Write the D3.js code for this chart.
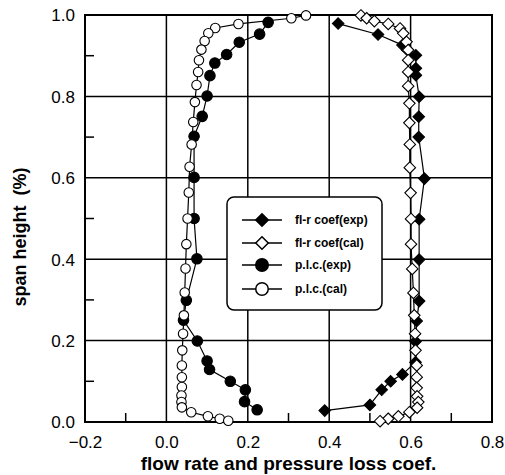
<!DOCTYPE html>
<html><head><meta charset="utf-8">
<script src="https://cdn.jsdelivr.net/npm/d3@7"></script>
<style>body{margin:0;background:#fff}svg{display:block}</style>
</head><body><div id="chart"></div>
<script>
// p.l.c.(cal): span heights and values
const calSpan = [0.999,0.992,0.978,0.968,0.955,0.936,0.915,0.889,0.860,0.828,0.786,0.737,0.682,0.627,0.564,0.500,0.437,0.377,0.318,0.262,0.217,0.176,0.139,0.110,0.086,0.065,0.049,0.036,0.024,0.014,0.008,0.003];
const plcCal  = [0.343,0.307,0.177,0.120,0.103,0.094,0.086,0.080,0.078,0.074,0.070,0.066,0.062,0.057,0.055,0.052,0.049,0.047,0.045,0.043,0.041,0.039,0.038,0.038,0.038,0.037,0.037,0.038,0.061,0.102,0.131,0.152];

const plcExpSpan = [0.982,0.953,0.933,0.903,0.882,0.851,0.801,0.751,0.702,0.601,0.500,0.401,0.299,0.250,0.199,0.150,0.129,0.100,0.079,0.050,0.030];
const plcExp     = [0.250,0.229,0.179,0.148,0.119,0.107,0.100,0.088,0.068,0.068,0.068,0.075,0.049,0.042,0.076,0.100,0.106,0.157,0.194,0.192,0.223];

const flrExpSpan = [0.979,0.952,0.926,0.914,0.901,0.869,0.852,0.799,0.750,0.700,0.598,0.498,0.399,0.297,0.248,0.198,0.147,0.117,0.100,0.079,0.042,0.028];
const flrExp     = [0.422,0.520,0.580,0.592,0.613,0.613,0.613,0.621,0.620,0.620,0.634,0.621,0.621,0.621,0.615,0.612,0.612,0.580,0.551,0.529,0.500,0.389];

const flrCalSpan = [0.999,0.992,0.985,0.978,0.967,0.955,0.934,0.914,0.889,0.860,0.825,0.783,0.735,0.682,0.625,0.563,0.499,0.437,0.376,0.317,0.262,0.217,0.176,0.139,0.110,0.084,0.063,0.049,0.035,0.024,0.014,0.008,0.002];
const flrCal     = [0.478,0.492,0.511,0.545,0.574,0.582,0.590,0.594,0.594,0.594,0.594,0.597,0.597,0.598,0.598,0.600,0.601,0.601,0.604,0.607,0.609,0.611,0.612,0.615,0.615,0.615,0.616,0.619,0.616,0.597,0.570,0.545,0.525];

const xTicks = [-0.2,0.0,0.2,0.4,0.6,0.8];
const yTicks = [0.0,0.2,0.4,0.6,0.8,1.0];
const xMinor = [-0.1,0.1,0.3,0.5,0.7];
const yMinor = [0.1,0.3,0.5,0.7,0.9];
const legendLabels = ["fl-r coef(exp)","fl-r coef(cal)","p.l.c.(exp)","p.l.c.(cal)"];
const xTitle = "flow rate and pressure loss coef.";
const yTitle = "span height  (%)";

const W=505,H=475;
const m={l:85,r:13,t:15,b:53};
const svg=d3.select("#chart").append("svg").attr("width",W).attr("height",H)
  .style("font-family","Arial, 'Liberation Sans', Helvetica, sans-serif");
const x=d3.scaleLinear().domain([-0.2,0.8]).range([m.l,W-m.r]);
const y=d3.scaleLinear().domain([0,1]).range([H-m.b,m.t]);

// grid
const g=svg.append("g");
g.selectAll(".vg").data(xTicks).join("line").attr("x1",d=>x(d)).attr("x2",d=>x(d))
  .attr("y1",y(0)).attr("y2",y(1)).attr("stroke","#000").attr("stroke-width",1.5);
g.selectAll(".hg").data(yTicks).join("line").attr("y1",d=>y(d)).attr("y2",d=>y(d))
  .attr("x1",x(-0.2)).attr("x2",x(0.8)).attr("stroke","#000").attr("stroke-width",1.5);
// minor ticks
g.selectAll(".xm").data(xMinor).join("line").attr("x1",d=>x(d)).attr("x2",d=>x(d))
  .attr("y1",y(0)).attr("y2",y(0)-9).attr("stroke","#000").attr("stroke-width",1.5);
g.selectAll(".ym").data(yMinor).join("line").attr("y1",d=>y(d)).attr("y2",d=>y(d))
  .attr("x1",x(-0.2)).attr("x2",x(-0.2)+9).attr("stroke","#000").attr("stroke-width",1.5);
// frame
svg.append("rect").attr("x",x(-0.2)).attr("y",y(1)).attr("width",x(0.8)-x(-0.2)).attr("height",y(0)-y(1))
  .attr("fill","none").attr("stroke","#000").attr("stroke-width",2);

// axes labels via d3 axes
const xa=svg.append("g").attr("transform",`translate(0,${y(0)})`)
  .call(d3.axisBottom(x).tickValues(xTicks).tickFormat(d3.format(".1f")).tickSize(0).tickPadding(14));
const ya=svg.append("g").attr("transform",`translate(${x(-0.2)},0)`)
  .call(d3.axisLeft(y).tickValues(yTicks).tickFormat(d3.format(".1f")).tickSize(0).tickPadding(10));
[xa,ya].forEach(a=>{a.select(".domain").remove();a.selectAll("text").attr("font-size",17).attr("fill","#000")
  .style("font-family","Arial, 'Liberation Sans', sans-serif");});
ya.selectAll("text").attr("dy","0.35em");

svg.append("text").attr("x",(x(-0.2)+x(0.8))/2).attr("y",470).attr("text-anchor","middle")
  .attr("font-weight","bold").attr("font-size",19).text(xTitle);
svg.append("text").attr("transform",`translate(26,237) rotate(-90)`).attr("text-anchor","middle")
  .style("white-space","pre").attr("xml:space","preserve")
  .attr("font-weight","bold").attr("font-size",18).text(yTitle);

const line=d3.line().x(d=>x(d[0])).y(d=>y(d[1]));
const zip=(a,b)=>a.map((v,i)=>[v,b[i]]);
const series=[
  {xs:flrExp, ys:flrExpSpan, sym:"diamond", fill:"#000"},
  {xs:flrCal, ys:flrCalSpan, sym:"diamond", fill:"#fff"},
  {xs:plcExp, ys:plcExpSpan, sym:"circle", fill:"#000"},
  {xs:plcCal, ys:calSpan, sym:"circle", fill:"#fff"}
];
const symPath=(s,sz)=> s==="circle" ? d3.symbol(d3.symbolCircle, sz*sz*Math.PI/4)() :
  `M0,${-sz/2}L${sz/2},0L0,${sz/2}L${-sz/2},0Z`;
const sizes=[11.5,11.5,10.5,9.5];
series.forEach((s,i)=>{
  const pts=zip(s.xs,s.ys);
  svg.append("path").attr("d",line(pts)).attr("fill","none").attr("stroke","#000").attr("stroke-width",1.2);
  svg.append("g").selectAll("path").data(pts).join("path")
    .attr("transform",d=>`translate(${x(d[0])},${y(d[1])})`)
    .attr("d",symPath(s.sym,sizes[i])).attr("fill",s.fill).attr("stroke","#000").attr("stroke-width",1.1);
});

// legend
const lg=svg.append("g");
lg.append("rect").attr("x",227).attr("y",197).attr("width",155).attr("height",113).attr("rx",7)
  .attr("fill","#fff").attr("stroke","#000").attr("stroke-width",1.5);
const rowsY=[220,243,265,289];
legendLabels.forEach((lab,i)=>{
  const yy=rowsY[i];
  lg.append("line").attr("x1",242).attr("x2",282).attr("y1",yy).attr("y2",yy).attr("stroke","#000").attr("stroke-width",1.5);
  lg.append("path").attr("transform",`translate(262,${yy})`).attr("d",symPath(series[i].sym,12.5))
    .attr("fill",series[i].fill).attr("stroke","#000").attr("stroke-width",1.5);
  lg.append("text").attr("x",295).attr("y",yy+4).attr("font-size",12).attr("font-weight","bold").text(lab);
});
</script></body></html>
